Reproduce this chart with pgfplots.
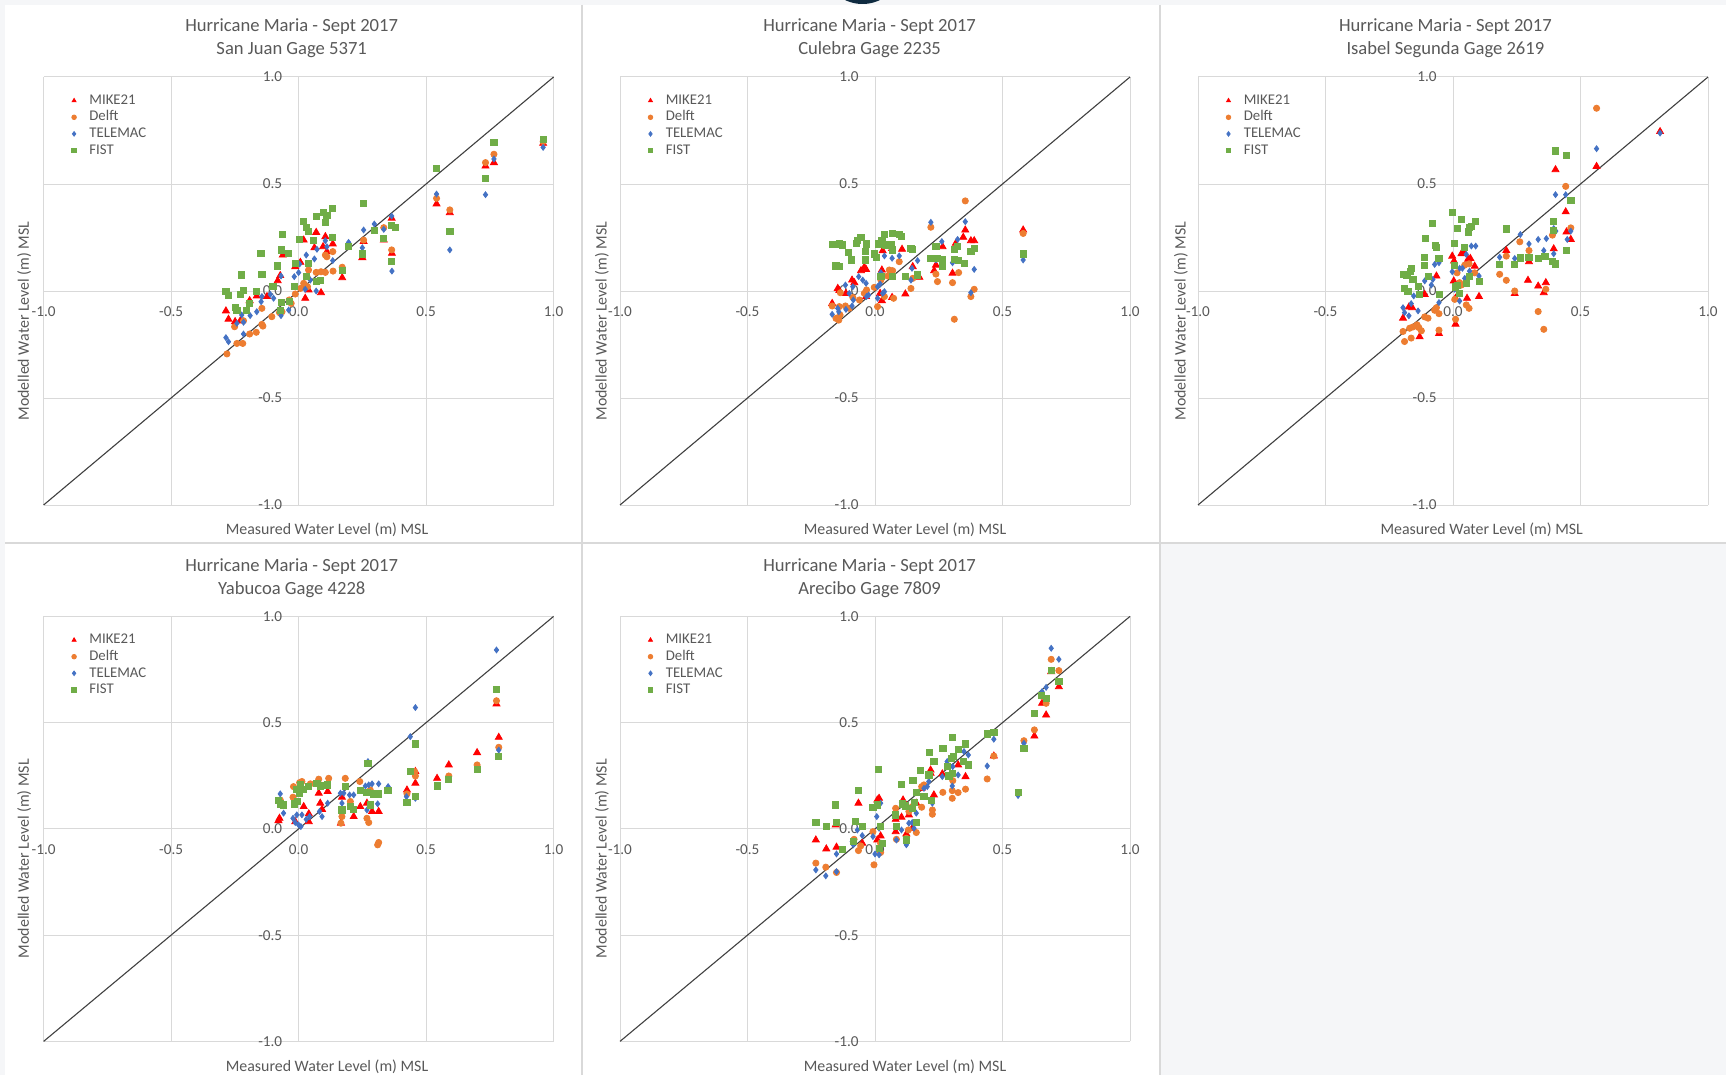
\documentclass[border=0pt]{standalone}
\usepackage{pgfplots}
\pgfplotsset{compat=1.18}
\usepackage{fontspec}
\setmainfont{Carlito}
\definecolor{bg}{HTML}{F5F6F8}
\definecolor{sep}{HTML}{D9D9D9}
\definecolor{gridc}{HTML}{D9D9D9}
\definecolor{txt}{HTML}{595959}
\definecolor{cmike}{HTML}{FF0000}
\definecolor{cdelft}{HTML}{ED7D31}
\definecolor{ctele}{HTML}{4472C4}
\definecolor{cfist}{HTML}{70AD47}
\definecolor{navy}{HTML}{0F2B40}
\definecolor{diagc}{HTML}{404040}

\pgfplotsset{
  panel/.style={
    scale only axis, width=255pt, anchor=south west,
    xmin=-1, xmax=1, ymin=-1, ymax=1,
    axis lines=middle,
    axis line style={draw=gridc, -, line width=0.5pt},
    grid=major, major grid style={draw=gridc, line width=0.5pt},
    xtick={-1,-0.5,0,0.5,1}, ytick={-1,-0.5,0,0.5,1},
    xticklabels={-1.0,-0.5,0.0,0.5,1.0},
    yticklabels={-1.0,-0.5,0.0,0.5,1.0},
    major tick length=0pt,
    hide obscured x ticks=false, hide obscured y ticks=false,
    tick label style={font=\fontsize{7.6}{9}\selectfont, text=txt, inner sep=0pt},
    xticklabel style={anchor=center, yshift=-10.3pt},
    yticklabel style={anchor=east, xshift=-8pt},
    clip=false,
    legend cell align=left,
    legend style={at={(rel axis cs:0,1)}, anchor=north west,
      xshift=14.1pt, yshift=-8.5pt, draw=none, fill=none,
      inner sep=0pt, outer sep=0pt, row sep=1.6pt, column sep=6.5pt,
      font=\fontsize{7.4}{8}\selectfont, text=txt,
      nodes={inner sep=0pt, text height=5.2pt, text depth=1.5pt}},
    legend image code/.code={\draw[mark size=1.15pt] plot coordinates {(0pt,0pt)};},
  },
  diag/.style={no marks, draw=diagc, line width=0.55pt, forget plot},
  mikes/.style={only marks, mark=triangle*, color=cmike, mark size=2pt},
  delfts/.style={only marks, mark=*, color=cdelft, mark size=1.55pt},
  teles/.style={only marks, mark=diamond*, color=ctele, mark size=1.45pt},
  fists/.style={only marks, mark=square*, color=cfist, mark size=1.55pt},
}

\begin{document}
\begin{tikzpicture}
% background and panel frames
\fill[bg] (0pt,0pt) rectangle (863pt,-537.5pt);
\fill[white] (2.5pt,-2.5pt) rectangle (863pt,-537.5pt);
\fill[bg] (580pt,-271.5pt) rectangle (863pt,-537.5pt);
\draw[sep, line width=1pt] (291pt,-2.5pt) -- (291pt,-537.5pt);
\draw[sep, line width=1pt] (580pt,-2.5pt) -- (580pt,-537.5pt);
\draw[sep, line width=1pt] (2.5pt,-271.5pt) -- (863pt,-271.5pt);
\begin{scope}
\clip (0pt,0pt) rectangle (863pt,-537.5pt);
\fill[navy] (431.25pt,18.15pt) circle (20.15pt);
\end{scope}

% titles
\tikzset{ttl/.style={align=center, font=\fontsize{9.3}{11.55}\selectfont, text=txt},
         xl/.style={font=\fontsize{7.95}{9}\selectfont, text=txt},
         yl/.style={font=\fontsize{7.95}{9}\selectfont, text=txt, rotate=90}}
\node[ttl] at (145.85pt,-19.3pt) {Hurricane Maria - Sept 2017\\San Juan Gage 5371};
\node[ttl] at (434.8pt,-19.3pt) {Hurricane Maria - Sept 2017\\Culebra Gage 2235};
\node[ttl] at (722.7pt,-19.3pt) {Hurricane Maria - Sept 2017\\Isabel Segunda Gage 2619};
\node[ttl] at (145.85pt,-289pt) {Hurricane Maria - Sept 2017\\Yabucoa Gage 4228};
\node[ttl] at (434.8pt,-289pt) {Hurricane Maria - Sept 2017\\Arecibo Gage 7809};

\node[xl] at (163.5pt,-264.75pt) {Measured Water Level (m) MSL};
\node[xl] at (452.5pt,-264.75pt) {Measured Water Level (m) MSL};
\node[xl] at (740.85pt,-264.75pt) {Measured Water Level (m) MSL};
\node[xl] at (163.5pt,-533.35pt) {Measured Water Level (m) MSL};
\node[xl] at (452.5pt,-533.35pt) {Measured Water Level (m) MSL};

\node[yl] at (12.1pt,-160.5pt) {Modelled Water Level (m) MSL};
\node[yl] at (301pt,-160.5pt) {Modelled Water Level (m) MSL};
\node[yl] at (590.5pt,-160.5pt) {Modelled Water Level (m) MSL};
\node[yl] at (12.1pt,-429.3pt) {Modelled Water Level (m) MSL};
\node[yl] at (301pt,-429.3pt) {Modelled Water Level (m) MSL};

% ---------- Panel 1: San Juan ----------
\begin{axis}[panel, at={(21.8pt,-252.5pt)}, height=214pt]
\addplot[diag] coordinates {(-1,-1) (1,1)};
\addplot[mikes] coordinates {(0.959,0.690) (0.733,0.584) (0.766,0.600) (0.541,0.407) (0.593,0.366) (0.365,0.340) (0.334,0.238) (0.250,0.156) (0.255,0.231) (0.171,0.062) (0.134,0.220) (0.105,0.254) (0.096,0.207) (0.069,0.274) (0.062,0.202) (0.020,0.238) (0.007,0.134) (-0.062,0.168) (-0.072,0.072) (-0.013,0.114) (0.039,0.005) (0.088,-0.008) (0.026,-0.034) (-0.082,0.048) (-0.164,-0.023) (-0.192,-0.045) (-0.285,-0.093) (-0.275,-0.132) (-0.249,-0.143) (-0.229,-0.140) (-0.124,-0.026) (0.366,0.176) (0.111,0.184)};
\addplot[delfts] coordinates {(0.959,0.698) (0.766,0.639) (0.733,0.600) (0.541,0.433) (0.593,0.379) (0.365,0.192) (0.334,0.296) (0.255,0.238) (0.171,0.111) (0.134,0.184) (0.105,0.168) (0.111,0.160) (0.135,0.093) (0.069,0.087) (0.088,0.090) (0.105,0.087) (0.039,0.098) (0.033,0.067) (0.035,0.020) (0.020,0.036) (0.007,0.012) (-0.013,-0.014) (-0.037,-0.042) (-0.029,-0.058) (-0.075,-0.101) (-0.065,-0.097) (-0.105,-0.120) (-0.144,-0.081) (-0.144,-0.156) (-0.140,-0.164) (-0.166,-0.193) (-0.192,-0.201) (-0.219,-0.245) (-0.242,-0.245) (-0.281,-0.294) (-0.251,-0.167) (-0.216,-0.139)};
\addplot[teles] coordinates {(0.959,0.671) (0.766,0.617) (0.733,0.450) (0.541,0.453) (0.593,0.192) (0.366,0.093) (0.365,0.350) (0.334,0.288) (0.297,0.313) (0.255,0.285) (0.250,0.202) (0.196,0.227) (0.134,0.142) (0.131,0.251) (0.111,0.207) (0.105,0.235) (0.072,0.195) (0.062,0.150) (0.030,0.168) (0.004,0.126) (0.000,0.086) (-0.017,0.067) (0.026,0.008) (0.069,0.000) (0.046,0.051) (-0.069,0.070) (-0.098,-0.034) (-0.111,-0.016) (-0.144,-0.026) (-0.147,-0.050) (-0.164,-0.097) (-0.190,-0.115) (-0.223,-0.112) (-0.216,-0.146) (-0.242,-0.151) (-0.216,-0.201) (-0.285,-0.218) (-0.275,-0.237) (-0.069,-0.115) (-0.039,-0.089)};
\addplot[fists] coordinates {(0.959,0.709) (0.766,0.693) (0.541,0.573) (0.733,0.525) (0.593,0.280) (0.365,0.137) (0.334,0.246) (0.365,0.308) (0.380,0.298) (0.297,0.282) (0.255,0.410) (0.250,0.173) (0.196,0.207) (0.171,0.098) (0.134,0.386) (0.111,0.352) (0.096,0.368) (0.105,0.319) (0.069,0.347) (0.020,0.324) (0.030,0.296) (0.039,0.277) (0.004,0.241) (0.059,0.238) (0.131,0.249) (0.039,0.129) (-0.013,0.129) (0.030,0.067) (0.069,0.044) (0.085,0.048) (-0.016,0.020) (-0.062,0.265) (-0.068,0.192) (-0.039,0.176) (-0.082,0.117) (-0.148,0.176) (-0.144,0.078) (-0.223,0.075) (-0.101,0.020) (-0.285,0.000) (-0.275,-0.020) (-0.229,-0.016) (-0.216,0.002) (-0.164,0.000) (-0.194,-0.058) (-0.249,-0.078) (-0.242,-0.089) (-0.205,-0.089) (-0.068,-0.055) (-0.035,-0.050) (-0.072,-0.089)};
\legend{MIKE21,Delft,TELEMAC,FIST}
\end{axis}

% ---------- Panel 2: Culebra ----------
\begin{axis}[panel, at={(310pt,-252.5pt)}, height=214pt]
\addplot[diag] coordinates {(-1,-1) (1,1)};
\addplot[mikes] coordinates {(0.581,0.285) (0.354,0.285) (0.376,0.235) (0.389,0.235) (0.346,0.251) (0.317,0.223) (0.265,0.207) (0.239,0.121) (0.232,0.095) (0.304,0.083) (0.148,0.114) (0.174,0.064) (0.119,-0.014) (0.106,0.195) (0.067,0.199) (0.041,0.210) (0.030,0.188) (0.027,0.098) (0.020,-0.011) (0.027,-0.045) (0.067,-0.030) (-0.042,0.111) (-0.035,0.101) (-0.055,0.095) (-0.090,0.051) (-0.081,0.039) (-0.146,0.012) (-0.140,0.002) (-0.168,-0.058) (-0.114,-0.011) (-0.035,-0.026)};
\addplot[delfts] coordinates {(0.354,0.421) (0.219,0.298) (0.581,0.269) (0.389,0.008) (0.376,-0.026) (0.311,-0.132) (0.304,0.039) (0.328,0.086) (0.245,0.044) (0.239,0.079) (0.141,0.012) (0.148,0.059) (0.095,0.137) (0.069,0.095) (0.056,0.098) (0.050,0.070) (-0.003,0.017) (0.037,-0.026) (0.073,-0.034) (0.010,-0.073) (-0.033,0.005) (-0.042,-0.011) (-0.061,-0.042) (-0.087,-0.030) (-0.116,-0.070) (-0.101,-0.081) (-0.140,-0.073) (-0.168,-0.070) (-0.153,-0.128) (-0.142,-0.136) (-0.137,-0.112) (-0.136,-0.008) (0.023,0.051)};
\addplot[teles] coordinates {(0.219,0.321) (0.354,0.324) (0.581,0.145) (0.262,0.231) (0.324,0.241) (0.389,0.101) (0.376,-0.008) (0.304,0.132) (0.239,0.145) (0.167,0.142) (0.145,0.106) (0.141,0.051) (0.095,0.164) (0.067,0.153) (0.037,0.164) (0.023,0.086) (0.020,0.033) (0.010,0.020) (0.037,-0.003) (0.030,-0.011) (0.010,-0.034) (-0.064,0.067) (-0.048,0.051) (-0.035,0.036) (-0.087,0.020) (-0.101,-0.011) (-0.116,0.028) (-0.085,-0.042) (-0.090,-0.070) (-0.114,-0.086) (-0.146,-0.081) (-0.142,-0.097) (-0.168,-0.109) (-0.033,-0.026) (-0.025,-0.019)};
\addplot[fists] coordinates {(-0.168,0.219) (-0.140,0.220) (-0.127,0.215) (-0.153,0.117) (-0.140,0.114) (-0.103,0.179) (-0.094,0.145) (-0.074,0.223) (-0.055,0.251) (-0.068,0.238) (-0.035,0.220) (-0.038,0.184) (-0.038,0.145) (-0.003,0.173) (0.004,0.157) (0.014,0.220) (0.027,0.238) (0.037,0.266) (0.067,0.269) (0.041,0.215) (0.063,0.215) (0.095,0.266) (0.102,0.254) (0.069,0.192) (0.141,0.199) (0.148,0.195) (0.119,0.067) (0.167,0.075) (0.023,0.067) (0.069,0.067) (0.219,0.153) (0.245,0.153) (0.265,0.148) (0.239,0.210) (0.265,0.114) (0.311,0.195) (0.324,0.210) (0.311,0.148) (0.328,0.142) (0.350,0.129) (0.376,0.184) (0.389,0.199) (0.581,0.173)};
\legend{MIKE21,Delft,TELEMAC,FIST}
\end{axis}

% ---------- Panel 3: Isabel Segunda ----------
\begin{axis}[panel, at={(599pt,-252.5pt)}, height=214pt]
\addplot[diag] coordinates {(-1,-1) (1,1)};
\addplot[mikes] coordinates {(0.812,0.745) (0.563,0.582) (0.402,0.567) (0.442,0.370) (0.445,0.276) (0.462,0.241) (0.395,0.197) (0.298,0.137) (0.209,0.189) (0.294,0.050) (0.334,0.023) (0.364,0.039) (0.356,-0.008) (0.242,-0.012) (0.102,-0.026) (0.055,-0.034) (0.010,-0.155) (-0.055,-0.199) (-0.131,-0.214) (-0.196,-0.127) (-0.173,-0.075) (-0.160,-0.078) (-0.111,-0.016) (-0.065,0.070) (-0.003,0.163) (0.004,0.140) (0.033,0.174) (0.042,0.179) (0.059,0.148) (0.068,0.152) (0.085,0.116) (0.003,0.047) (0.010,-0.034)};
\addplot[delfts] coordinates {(0.563,0.854) (0.442,0.489) (0.462,0.295) (0.390,0.261) (0.298,0.189) (0.262,0.230) (0.209,0.163) (0.183,0.078) (0.209,0.050) (0.242,0.000) (0.364,0.008) (0.334,-0.096) (0.356,-0.179) (0.016,0.085) (0.026,0.039) (0.033,0.028) (0.007,-0.039) (0.052,-0.065) (0.063,-0.081) (0.010,-0.132) (-0.055,-0.106) (-0.055,-0.183) (-0.072,-0.090) (-0.065,-0.078) (-0.111,-0.121) (-0.098,-0.127) (-0.141,-0.158) (-0.124,-0.186) (-0.134,-0.171) (-0.170,-0.174) (-0.157,-0.168) (-0.196,-0.189) (-0.190,-0.236) (-0.164,-0.220) (0.063,0.127) (0.046,0.121) (0.085,0.085)};
\addplot[teles] coordinates {(0.812,0.738) (0.563,0.665) (0.402,0.450) (0.442,0.450) (0.395,0.292) (0.403,0.280) (0.462,0.280) (0.448,0.241) (0.366,0.245) (0.334,0.241) (0.298,0.220) (0.264,0.264) (0.242,0.152) (0.183,0.158) (0.356,0.189) (0.395,0.174) (0.089,0.210) (0.072,0.210) (0.052,0.171) (0.037,0.106) (0.026,0.106) (-0.003,0.090) (0.065,0.093) (0.102,0.070) (0.046,0.059) (0.007,0.008) (0.026,-0.047) (-0.055,-0.016) (-0.055,-0.054) (-0.072,0.124) (-0.055,0.132) (-0.085,0.028) (-0.079,0.054) (-0.111,0.047) (-0.154,-0.023) (-0.196,-0.078) (-0.190,-0.101) (-0.164,-0.059) (-0.173,-0.116) (-0.137,-0.093)};
\addplot[fists] coordinates {(0.402,0.655) (0.445,0.632) (0.462,0.424) (0.393,0.326) (0.395,0.284) (0.445,0.191) (0.390,0.137) (0.403,0.127) (0.360,0.163) (0.334,0.152) (0.298,0.158) (0.264,0.155) (0.209,0.290) (0.183,0.124) (0.242,0.124) (-0.003,0.368) (-0.081,0.317) (-0.107,0.245) (-0.068,0.214) (-0.065,0.205) (-0.111,0.158) (-0.111,0.121) (-0.055,0.152) (-0.196,0.078) (-0.181,0.073) (-0.164,0.106) (-0.168,0.093) (-0.157,0.054) (-0.137,0.023) (-0.192,0.012) (-0.177,-0.003) (-0.098,0.070) (-0.131,-0.016) (-0.052,-0.016) (0.016,0.292) (0.033,0.334) (0.065,0.298) (0.059,0.276) (0.089,0.326) (0.072,0.303) (0.007,0.222) (0.046,0.202) (0.007,0.121) (0.065,0.070) (0.052,0.034) (0.024,-0.012) (0.010,0.019) (0.016,0.028) (0.102,0.043)};
\legend{MIKE21,Delft,TELEMAC,FIST}
\end{axis}

% ---------- Panel 4: Yabucoa ----------
\begin{axis}[panel, at={(21.8pt,-520.7pt)}, height=212.5pt]
\addplot[diag] coordinates {(-1,-1) (1,1)};
\addplot[mikes] coordinates {(0.776,0.588) (0.785,0.431) (0.700,0.359) (0.589,0.301) (0.543,0.238) (0.458,0.270) (0.458,0.215) (0.425,0.183) (0.314,0.082) (0.288,0.082) (0.268,0.121) (0.242,0.105) (0.216,0.058) (0.166,0.027) (0.114,0.176) (0.079,0.168) (0.085,0.121) (0.092,0.092) (0.040,0.071) (0.040,0.034) (0.020,0.105) (-0.013,0.034) (-0.075,0.050) (-0.079,0.039) (0.170,0.149)};
\addplot[delfts] coordinates {(0.776,0.603) (0.785,0.384) (0.700,0.301) (0.589,0.249) (0.458,0.249) (0.455,0.270) (0.425,0.165) (0.314,-0.064) (0.310,-0.075) (0.268,0.050) (0.275,0.030) (0.240,0.223) (0.183,0.238) (0.118,0.238) (0.079,0.234) (0.170,0.058) (0.166,0.027) (0.203,0.129) (0.046,0.212) (0.013,0.223) (0.004,0.218) (-0.022,0.149) (-0.072,0.136) (-0.020,0.199) (0.281,0.183)};
\addplot[teles] coordinates {(0.776,0.842) (0.458,0.571) (0.438,0.434) (0.785,0.371) (0.272,0.317) (0.351,0.199) (0.314,0.212) (0.288,0.212) (0.275,0.207) (0.262,0.202) (0.216,0.160) (0.200,0.160) (0.177,0.168) (0.164,0.168) (0.170,0.121) (0.310,0.118) (0.268,0.089) (0.114,0.121) (0.082,0.082) (0.092,0.058) (0.043,0.058) (0.030,0.045) (0.013,0.066) (-0.007,0.066) (-0.022,0.050) (-0.013,0.030) (0.000,0.019) (0.009,0.011) (-0.059,0.074) (-0.072,0.165) (0.423,0.152) (0.458,0.144)};
\addplot[fists] coordinates {(0.776,0.657) (0.458,0.400) (0.785,0.340) (0.700,0.281) (0.589,0.234) (0.543,0.202) (0.438,0.270) (0.458,0.152) (0.425,0.124) (0.350,0.180) (0.314,0.165) (0.295,0.165) (0.268,0.171) (0.242,0.183) (0.281,0.113) (0.272,0.309) (0.203,0.105) (0.216,0.092) (0.183,0.199) (0.170,0.089) (0.114,0.207) (0.085,0.202) (0.072,0.215) (0.040,0.199) (0.020,0.187) (0.007,0.207) (-0.009,0.187) (0.004,0.168) (-0.017,0.118) (-0.004,0.129) (-0.079,0.136) (-0.072,0.118) (-0.059,0.113)};
\legend{MIKE21,Delft,TELEMAC,FIST}
\end{axis}

% ---------- Panel 5: Arecibo ----------
\begin{axis}[panel, at={(310pt,-520.7pt)}, height=212.5pt]
\addplot[diag] coordinates {(-1,-1) (1,1)};
\addplot[mikes] coordinates {(0.691,0.740) (0.721,0.669) (0.671,0.536) (0.655,0.591) (0.625,0.437) (0.466,0.343) (0.326,0.301) (0.355,0.246) (0.264,0.259) (0.218,0.277) (0.218,0.262) (0.231,0.160) (0.183,0.191) (0.162,0.121) (0.110,0.136) (0.133,0.066) (0.104,0.055) (0.081,0.045) (0.146,0.003) (0.123,-0.024) (0.081,-0.013) (0.009,0.136) (0.016,0.144) (0.022,-0.033) (0.009,-0.052) (-0.065,0.121) (-0.050,-0.067) (-0.151,-0.086) (-0.191,-0.094) (-0.232,-0.052) (-0.154,0.019)};
\addplot[delfts] coordinates {(0.691,0.798) (0.721,0.745) (0.671,0.591) (0.653,0.625) (0.625,0.466) (0.584,0.415) (0.466,0.343) (0.440,0.235) (0.355,0.187) (0.326,0.171) (0.303,0.180) (0.303,0.144) (0.266,0.172) (0.305,0.227) (0.225,0.089) (0.225,0.069) (0.183,0.102) (0.183,0.199) (0.192,0.207) (0.133,0.082) (0.146,0.105) (0.162,-0.017) (0.131,-0.005) (0.123,-0.044) (0.084,-0.049) (0.081,0.097) (-0.008,-0.013) (0.022,-0.067) (0.022,-0.111) (-0.004,-0.169) (-0.065,-0.102) (-0.056,-0.080) (-0.082,-0.049) (-0.151,-0.205) (-0.193,-0.180) (-0.232,-0.161)};
\addplot[teles] coordinates {(0.691,0.850) (0.721,0.798) (0.671,0.666) (0.655,0.646) (0.466,0.422) (0.440,0.296) (0.584,0.403) (0.561,0.157) (0.366,0.348) (0.349,0.364) (0.305,0.293) (0.326,0.254) (0.303,0.202) (0.283,0.317) (0.264,0.246) (0.211,0.223) (0.205,0.199) (0.192,0.191) (0.225,0.121) (0.162,0.074) (0.146,0.030) (0.153,0.003) (0.133,0.027) (0.123,-0.060) (0.123,-0.075) (0.084,-0.052) (0.104,-0.005) (0.022,0.121) (0.007,0.058) (0.016,0.003) (-0.008,-0.036) (0.000,-0.118) (0.016,-0.122) (-0.050,-0.031) (-0.085,-0.075) (-0.089,-0.060) (-0.151,-0.118) (-0.151,-0.201) (-0.193,-0.221) (-0.232,-0.193) (-0.069,-0.005)};
\addplot[fists] coordinates {(0.691,0.745) (0.721,0.693) (0.671,0.614) (0.653,0.630) (0.625,0.544) (0.584,0.379) (0.561,0.172) (0.466,0.453) (0.440,0.447) (0.303,0.431) (0.355,0.400) (0.326,0.375) (0.266,0.379) (0.309,0.340) (0.300,0.332) (0.366,0.301) (0.347,0.317) (0.283,0.293) (0.290,0.249) (0.303,0.262) (0.214,0.359) (0.231,0.317) (0.179,0.277) (0.211,0.254) (0.149,0.230) (0.104,0.210) (0.162,0.171) (0.192,0.152) (0.222,0.136) (0.153,0.124) (0.120,0.108) (0.107,0.118) (0.146,0.097) (0.081,0.066) (0.162,0.030) (0.123,-0.052) (0.084,0.011) (0.013,0.281) (-0.065,0.183) (-0.154,0.113) (0.009,0.113) (-0.008,0.102) (0.022,0.011) (0.029,-0.067) (0.016,-0.091) (-0.050,0.011) (-0.076,0.034) (-0.086,-0.060) (-0.128,-0.096) (-0.151,0.030) (-0.191,0.011) (-0.232,0.030)};
\legend{MIKE21,Delft,TELEMAC,FIST}
\end{axis}

\pgfresetboundingbox
\path[use as bounding box] (0pt,0pt) rectangle (863pt,-537.5pt);
\end{tikzpicture}
\end{document}
